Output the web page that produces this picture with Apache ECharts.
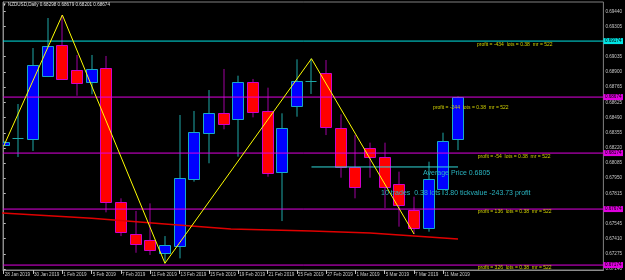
<!DOCTYPE html>
<html><head><meta charset="utf-8">
<script src="https://cdn.jsdelivr.net/npm/echarts@6/dist/echarts.min.js"></script>
<style>html,body{margin:0;padding:0;background:#000}#c{width:625px;height:280px}</style>
</head><body><div id="c"></div>
<script>
// ---------- data ----------
const symbolName = 'NZDUSD', timeframe = 'Daily';
const dates = ['28 Jan 2019','29 Jan 2019','30 Jan 2019','31 Jan 2019','1 Feb 2019','4 Feb 2019','5 Feb 2019','6 Feb 2019','7 Feb 2019','8 Feb 2019',
  '11 Feb 2019','12 Feb 2019','13 Feb 2019','14 Feb 2019','15 Feb 2019','18 Feb 2019','19 Feb 2019','20 Feb 2019','21 Feb 2019','22 Feb 2019',
  '25 Feb 2019','26 Feb 2019','27 Feb 2019','28 Feb 2019','1 Mar 2019','4 Mar 2019','5 Mar 2019','6 Mar 2019','7 Mar 2019','8 Mar 2019',
  '11 Mar 2019','12 Mar 2019'];
const opens  = [0.68242,0.68310,0.68300,0.68865,0.69142,0.68916,0.68806,0.68934,0.67737,0.67451,0.67395,0.67279,0.67347,0.67943,0.68351,0.68529,
  0.68476,0.68809,0.68550,0.68005,0.68597,0.68817,0.68886,0.68398,0.68047,0.68217,0.68139,0.67898,0.67668,0.67502,0.67851,0.68298];
const highs  = [0.68282,0.68612,0.69112,0.69380,0.69407,0.69050,0.69050,0.69041,0.67770,0.67657,0.67725,0.67433,0.68514,0.68550,0.68737,0.68925,
  0.68865,0.68836,0.68758,0.68529,0.69011,0.69017,0.69005,0.68520,0.68335,0.68267,0.68267,0.68008,0.67785,0.68097,0.68356,0.68679];
const lows   = [0.68237,0.68139,0.68193,0.68853,0.68833,0.68686,0.68699,0.67645,0.67433,0.67284,0.67264,0.67190,0.67234,0.67919,0.68083,0.68386,
  0.68142,0.68493,0.67963,0.67567,0.68499,0.68702,0.68335,0.67954,0.67770,0.67954,0.67684,0.67517,0.67451,0.67472,0.67800,0.68201];
const closes = [0.68273,0.68312,0.68958,0.69130,0.68838,0.68797,0.68922,0.67734,0.67472,0.67359,0.67309,0.67350,0.67949,0.68362,0.68529,0.68431,
  0.68809,0.68544,0.67999,0.68398,0.68818,0.68819,0.68410,0.68047,0.67874,0.68136,0.67874,0.67710,0.67502,0.67943,0.68282,0.68674];

const xTickIdx = [0,2,4,6,8,10,12,14,16,18,20,22,24,26,28,30];
const yTickLabels = [0.69440,0.69305,0.69035,0.68900,0.68765,0.68625,0.68490,0.68355,0.68220,0.68085,0.67950,0.67815,0.67545,0.67410,0.67275,0.67140];

const levelPrices  = [0.69174,0.68674,0.68174,0.67674,0.67174];
const levelProfits = [-434,-244,-54,136,326];
const lots = 0.38, marginReq = 522;
// anchor of each profit note (bar index, price)
const noteIdx   = [32.3,29.3,32.35,32.35,32.35];
const notePrice = [0.69142,0.68577,0.68139,0.67648,0.67148];

const avgPrice = 0.6805, avgFromIdx = 21, avgToIdx = 31;
const trades = 10, tickValue = 3.80, totalProfit = -243.73;
const avgNoteIdx = 28.61, avgNotePrice = 0.67999;
const sumNoteIdx = 25.75, sumNotePrice = 0.67818;

const zigzagIdx   = [0,4,11,21,28];
const zigzagPrice = [0.68237,0.69407,0.67190,0.69017,0.67451];

const trendIdx   = [-0.16,6,11,15.5,21,25,31];
const trendPrice = [0.67639,0.67592,0.67541,0.67496,0.67478,0.67460,0.67407];

// ---------- chart ----------
const FONT = 'Liberation Sans';
const X_MIN = -0.05, X_MAX = 40.92, Y_MIN = 0.6713, Y_MAX = 0.69523;
const candleData = opens.map((o,i)=>[i,o,closes[i],lows[i],highs[i]]);
const last = opens.length-1;
const header = '\u25BC ' + symbolName + ',' + timeframe + ' ' +
  [opens[last],highs[last],lows[last],closes[last]].map(v=>v.toFixed(5)).join(' ');

const notes = levelProfits.map((p,k)=>({x:noteIdx[k], y:notePrice[k],
  text:'profit = '+p+'  lots = '+lots+'  mr = '+marginReq, color:'#d0d000', size:5}));
notes.push({x:avgNoteIdx, y:avgNotePrice, text:'Average Price '+avgPrice.toFixed(4), color:'#2ab4c0', size:7});
notes.push({x:sumNoteIdx, y:sumNotePrice, text:trades+' trades  '+lots.toFixed(2)+' lots  '+tickValue.toFixed(2)+' tickvalue '+totalProfit.toFixed(2)+' profit', color:'#2ab4c0', size:7});

function renderCandle(params, api){
  const i=api.value(0), o=api.value(1), c=api.value(2), l=api.value(3), h=api.value(4);
  const xc = api.coord([i,o])[0];
  const yO=api.coord([i,o])[1], yC=api.coord([i,c])[1], yL=api.coord([i,l])[1], yH=api.coord([i,h])[1];
  const bull = c>=o;
  const left = Math.floor(xc-5.5)+0.5, w = 11;
  const wx = left+5.5;
  const top = Math.round(Math.min(yO,yC))+0.5, bot = Math.round(Math.max(yO,yC))+0.5;
  const wick = bull ? '#1ea8a8' : '#a000a0';
  const border = bull ? '#18a8c8' : '#d000c8';
  const fill = bull ? '#0000ff' : '#ff0000';
  const ch = [{type:'line', shape:{x1:wx,y1:yH,x2:wx,y2:yL}, style:{stroke:wick,lineWidth:1}}];
  if (bot-top < 1.5) ch.push({type:'line', shape:{x1:left,y1:top,x2:left+w,y2:top}, style:{stroke:wick,lineWidth:1}});
  else ch.push({type:'rect', shape:{x:left,y:top,width:w,height:bot-top}, style:{fill:fill,stroke:border,lineWidth:1}});
  return {type:'group', children:ch};
}

const levelSeries = levelPrices.map((p,k)=>{
  const col = k===0 ? '#00e4e4' : '#e000e0';
  return {type:'line', name:'level'+k, data:[[X_MIN,p],[X_MAX,p]], symbol:'none', z:4,
    lineStyle:{color:col,width:1}, silent:true,
    endLabel:{show:true, distance:0, formatter:()=>p.toFixed(5), backgroundColor:col,
      color:'#000', fontSize:4.6, fontFamily:FONT, padding:[0.5,1.5]}};
});

const chart = echarts.init(document.getElementById('c'), null, {renderer:'canvas'});
chart.setOption({
  animation:false,
  backgroundColor:'#000',
  grid:{left:3,right:21,top:2,bottom:10,show:true,borderColor:'#808080',borderWidth:1},
  graphic:[{type:'text', left:2, top:2.5, style:{text:header, fill:'#e0e0e0', font:'4.6px '+FONT}}],
  xAxis:{type:'value', min:X_MIN, max:X_MAX,
    axisLine:{show:true,lineStyle:{color:'#8c8c8c'}}, splitLine:{show:false},
    axisTick:{show:true, customValues:xTickIdx, length:4, lineStyle:{color:'#c0c0c0'}},
    axisLabel:{show:true, customValues:xTickIdx, formatter:v=>dates[Math.round(v)], align:'left',
      color:'#c8c8c8', fontSize:4.6, fontFamily:FONT, margin:2, padding:[0,0,0,1]}},
  yAxis:{type:'value', position:'right', min:Y_MIN, max:Y_MAX,
    axisLine:{show:true,lineStyle:{color:'#8c8c8c'}}, splitLine:{show:false},
    axisTick:{show:true, customValues:yTickLabels, length:2, lineStyle:{color:'#c0c0c0'}},
    axisLabel:{show:true, customValues:yTickLabels, formatter:v=>v.toFixed(5),
      color:'#c8c8c8', fontSize:4.6, fontFamily:FONT, margin:2}},
  series:[
    {type:'custom', name:'candles', data:candleData, renderItem:renderCandle, clip:true, z:2,
      encode:{x:0,y:[1,2,3,4]}},
    {type:'line', name:'trend', data:trendIdx.map((x,k)=>[x,trendPrice[k]]), symbol:'none',
      lineStyle:{color:'#e00000',width:1.5}, z:3, clip:true},
    {type:'line', name:'avg', data:[[avgFromIdx,avgPrice],[avgToIdx,avgPrice]], symbol:'none',
      lineStyle:{color:'#30d8d8',width:1}, z:4},
    ...levelSeries,
    {type:'line', name:'zigzag', data:zigzagIdx.map((x,k)=>[x,zigzagPrice[k]]), symbol:'none',
      lineStyle:{color:'#ffff00',width:1}, z:5, clip:true},
    {type:'custom', name:'notes', data:notes.map(n=>[n.x,n.y]), z:6,
      renderItem:(params,api)=>{
        const n = notes[params.dataIndex];
        const p = api.coord([api.value(0),api.value(1)]);
        return {type:'text', x:p[0], y:p[1], style:{text:n.text, fill:n.color,
          font:n.size+'px '+FONT, align:'left', verticalAlign:'middle'}};
      }}
  ]
});
</script></body></html>
